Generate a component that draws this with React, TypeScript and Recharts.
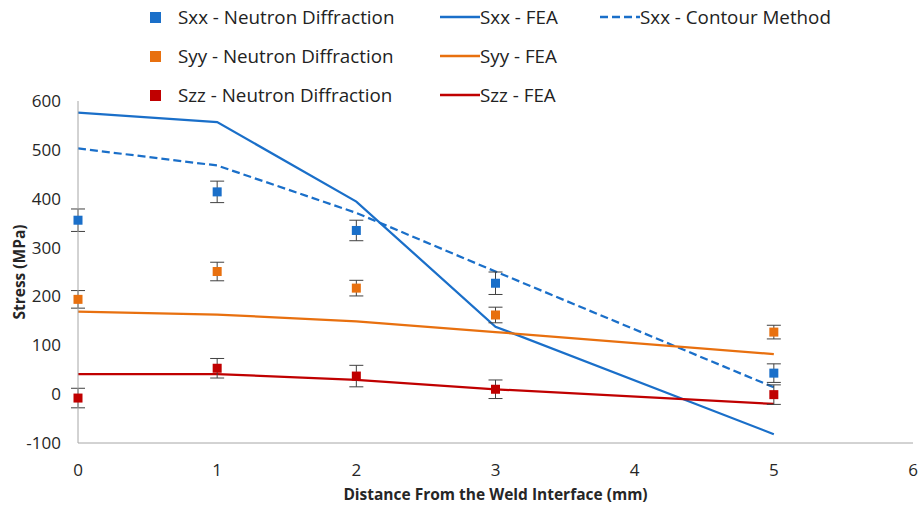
import React from "react";
import {
  ComposedChart,
  Line,
  Scatter,
  ErrorBar,
  XAxis,
  YAxis,
  Label,
} from "recharts";

const distances = [0, 1, 2, 3, 5];
const xTicks = [0, 1, 2, 3, 4, 5, 6];
const yTicks = [-100, 0, 100, 200, 300, 400, 500, 600];

const sxxFea = [576, 557, 394, 138, -82];
const sxxContour = [503, 468, 371, 251, 14];
const syyFea = [169, 163, 149, 127, 82];
const szzFea = [41, 41, 29, 10, -20];

const sxxNeutron = [356, 414, 335, 227, 43];
const sxxNeutronErr = [23, 22, 21, 23, 19];
const syyNeutron = [194, 251, 217, 162, 127];
const syyNeutronErr = [18, 19, 16, 16, 14];
const szzNeutron = [-8, 53, 37, 10, -1];
const szzNeutronErr = [20, 20, 22, 19, 20];

const BLUE = "#1a6fc9";
const ORANGE = "#e8700f";
const RED = "#c00000";
const FONT = "'Open Sans', 'Liberation Sans', sans-serif";

const toPoints = (ys: number[], errs?: number[]) =>
  distances.map((x, i) => ({ x, y: ys[i], err: errs ? errs[i] : 0 }));

const lineSeries = [
  { name: "Sxx - FEA", values: sxxFea, color: BLUE, dash: undefined },
  { name: "Sxx - Contour Method", values: sxxContour, color: BLUE, dash: "8 4" },
  { name: "Syy - FEA", values: syyFea, color: ORANGE, dash: undefined },
  { name: "Szz - FEA", values: szzFea, color: RED, dash: undefined },
];

const pointSeries = [
  { name: "Sxx - Neutron Diffraction", values: sxxNeutron, errs: sxxNeutronErr, color: BLUE },
  { name: "Syy - Neutron Diffraction", values: syyNeutron, errs: syyNeutronErr, color: ORANGE },
  { name: "Szz - Neutron Diffraction", values: szzNeutron, errs: szzNeutronErr, color: RED },
];

const squareShape = (color: string) => (props: any) => (
  <rect x={props.cx - 4.5} y={props.cy - 4.5} width={9} height={9} fill={color} />
);

// legend rows laid out like the Excel original (3 columns)
const legendRows = [
  [pointSeries[0], lineSeries[0], lineSeries[1]],
  [pointSeries[1], lineSeries[2], null],
  [pointSeries[2], lineSeries[3], null],
];
const rowCenters = [17, 56, 95];
const legendText = { fontSize: 18.8, color: "#222", whiteSpace: "nowrap" as const };

function LegendBlock() {
  return (
    <>
      {legendRows.map((row, r) =>
        row.map((item: any, c) => {
          if (!item) return null;
          const top = rowCenters[r] - 14;
          if (c === 0) {
            return (
              <div key={`${r}-${c}`} style={{ position: "absolute", left: 150, top, height: 28, display: "flex", alignItems: "center" }}>
                <span style={{ width: 11, height: 11, background: item.color, display: "inline-block" }} />
                <span style={{ marginLeft: 17, ...legendText }}>{item.name}</span>
              </div>
            );
          }
          const left = c === 1 ? 440 : 600;
          return (
            <div key={`${r}-${c}`} style={{ position: "absolute", left, top, height: 28, display: "flex", alignItems: "center" }}>
              <svg width={40} height={6}>
                <line x1={0} y1={3} x2={40} y2={3} stroke={item.color} strokeWidth={2.5} strokeDasharray={item.dash} />
              </svg>
              <span style={{ marginLeft: 0, ...legendText }}>{item.name}</span>
            </div>
          );
        })
      )}
    </>
  );
}

export default function App() {
  return (
    <div style={{ position: "relative", width: 919, height: 506, fontFamily: FONT, overflow: "hidden" }}>
      <style>{"body{margin:0}"}</style>
      <ComposedChart width={919} height={506} margin={{ top: 101, right: 6, left: 0, bottom: 0 }}>
        <XAxis
          type="number"
          dataKey="x"
          domain={[0, 6]}
          ticks={xTicks}
          stroke="#a6a6a6"
          tickLine={false}
          tickSize={0}
          tickMargin={21}
          height={63}
          tick={{ fill: "#262626", fontSize: 17 }}
        >
          <Label
            value="Distance From the Weld Interface (mm)"
            position="insideBottom"
            offset={6}
            style={{ fontWeight: 700, fontSize: 15.5, fill: "#262626" }}
          />
        </XAxis>
        <YAxis
          type="number"
          dataKey="y"
          domain={[-100, 600]}
          ticks={yTicks}
          stroke="#a6a6a6"
          tickLine={false}
          tickSize={0}
          tickMargin={17}
          width={78}
          tick={{ fill: "#262626", fontSize: 17 }}
        >
          <Label
            value="Stress (MPa)"
            position="center"
            angle={-90}
            dx={-20}
            style={{ fontWeight: 700, fontSize: 15.5, fill: "#262626" }}
          />
        </YAxis>
        {lineSeries.map((s) => (
          <Line
            key={s.name}
            data={toPoints(s.values)}
            dataKey="y"
            type="linear"
            stroke={s.color}
            strokeWidth={2.25}
            strokeDasharray={s.dash}
            dot={false}
            activeDot={false}
            isAnimationActive={false}
          />
        ))}
        {pointSeries.map((s) => (
          <Scatter
            key={s.name}
            data={toPoints(s.values, s.errs)}
            dataKey="y"
            fill={s.color}
            shape={squareShape(s.color)}
            isAnimationActive={false}
          >
            <ErrorBar dataKey="err" direction="y" width={7} stroke="#404040" strokeWidth={1} />
          </Scatter>
        ))}
      </ComposedChart>
      <LegendBlock />
    </div>
  );
}
